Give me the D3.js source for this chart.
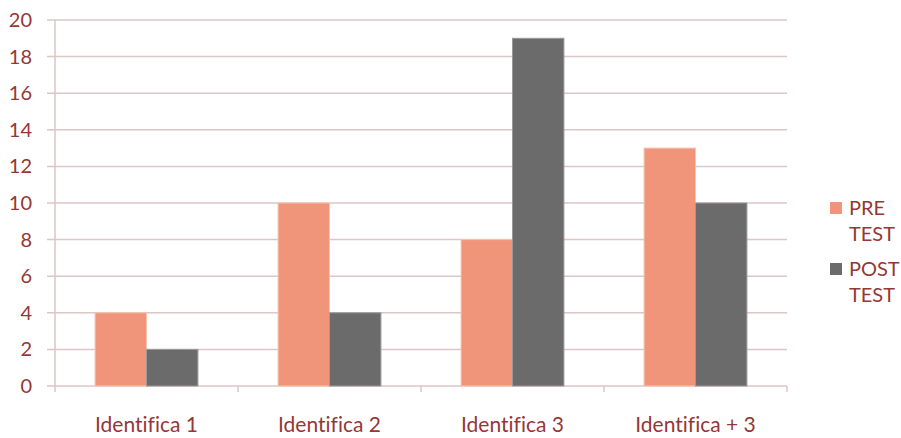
<!DOCTYPE html>
<html>
<head>
<meta charset="utf-8">
<script src="https://cdn.jsdelivr.net/npm/d3@7"></script>
<style>
  body { margin: 0; background: #fff; }
  svg text { font-family: Lato, "Open Sans", sans-serif; fill: #953735; font-variant-ligatures: none; }
</style>
</head>
<body>
<svg id="chart" width="901" height="438"></svg>
<script>
// ----- data -----
var categories = ["Identifica 1", "Identifica 2", "Identifica 3", "Identifica + 3"];
var preTest = [4, 10, 8, 13];
var postTest = [2, 4, 19, 10];
var seriesNames = [["PRE", "TEST"], ["POST", "TEST"]];
var yTicks = [0, 2, 4, 6, 8, 10, 12, 14, 16, 18, 20];

var colors = ["#f0957a", "#6b6b6b"];
var strokes = ["#f7c2b2", "#9a9a9a"];
var gridColor = "#dcc6c6";

var svg = d3.select("#chart");
var plotLeft = 55, plotRight = 787, plotTop = 20, plotBottom = 386;

var x = d3.scaleBand().domain(categories).range([plotLeft, plotRight]);
var y = d3.scaleLinear().domain([0, 20]).range([plotBottom, plotTop]);

// gridlines
svg.append("g").selectAll("line").data(yTicks).enter().append("line")
  .attr("x1", plotLeft - 8).attr("x2", plotRight)
  .attr("y1", function(d){ return y(d); }).attr("y2", function(d){ return y(d); })
  .attr("stroke", gridColor).attr("stroke-width", 1.5);

// y axis line
svg.append("line").attr("x1", plotLeft).attr("x2", plotLeft).attr("y1", plotTop).attr("y2", plotBottom + 6)
  .attr("stroke", gridColor).attr("stroke-width", 1.5);

// category separators
svg.append("g").selectAll("line").data(categories).enter().append("line")
  .attr("x1", function(d){ return x(d) + x.bandwidth(); })
  .attr("x2", function(d){ return x(d) + x.bandwidth(); })
  .attr("y1", plotBottom).attr("y2", plotBottom + 6)
  .attr("stroke", gridColor).attr("stroke-width", 1.5);

// y labels
svg.append("g").selectAll("text").data(yTicks).enter().append("text")
  .attr("x", 32).attr("y", function(d){ return y(d) + 7; })
  .attr("text-anchor", "end").style("font-size", "20px")
  .text(function(d){ return d; });

// x labels
svg.append("g").selectAll("text").data(categories).enter().append("text")
  .attr("x", function(d){ return x(d) + x.bandwidth() / 2; })
  .attr("y", 432).attr("text-anchor", "middle").style("font-size", "21px")
  .text(function(d){ return d; });

// bars
var barW = x.bandwidth() * 0.281;
var series = [preTest, postTest];
series.forEach(function(vals, si){
  svg.append("g").selectAll("rect").data(vals).enter().append("rect")
    .attr("x", function(d, i){ return x(categories[i]) + x.bandwidth() / 2 - barW + si * barW; })
    .attr("y", function(d){ return y(d); })
    .attr("width", barW)
    .attr("height", function(d){ return plotBottom - y(d); })
    .attr("fill", colors[si])
    .attr("stroke", strokes[si]).attr("stroke-width", 1);
});

// legend
var legend = svg.append("g");
seriesNames.forEach(function(name, i){
  var ly = 202 + i * 61;
  legend.append("rect").attr("x", 830).attr("y", ly).attr("width", 12).attr("height", 12)
    .attr("fill", colors[i]);
  legend.append("text").attr("x", 849).attr("y", ly + 13).style("font-size", "20px").text(name[0]);
  legend.append("text").attr("x", 849).attr("y", ly + 39).style("font-size", "20px").text(name[1]);
});
</script>
</body>
</html>
